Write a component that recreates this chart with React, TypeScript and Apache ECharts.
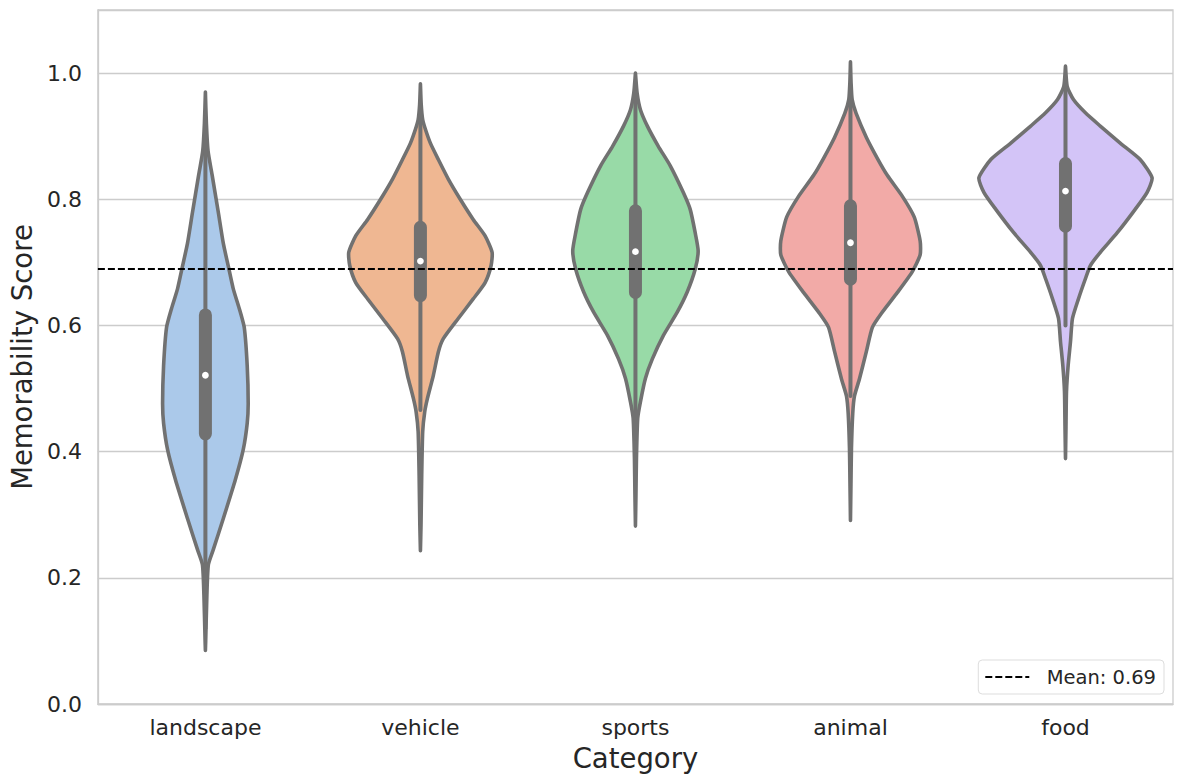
import React, { useEffect, useRef } from "react";
import * as echarts from "echarts";

// ---- Data ----
const categories = ["landscape", "vehicle", "sports", "animal", "food"];

// Violin profile: score positions (bottom → top) and half-widths (px at a 216px category band)
const landscapeScores = [0.085, 0.1, 0.173, 0.221, 0.245, 0.294, 0.355, 0.403, 0.445, 0.476, 0.536, 0.597, 0.627, 0.658, 0.694, 0.73, 0.779, 0.839, 0.876, 0.92, 0.97];
const landscapeWidths = [0, 0.3, 1.5, 3, 8, 18, 30, 38, 42, 43, 42, 39, 34, 28, 23, 18, 13, 6.7, 2.7, 1, 0];

const vehicleScores = [0.243, 0.284, 0.363, 0.432, 0.463, 0.484, 0.521, 0.558, 0.579, 0.611, 0.642, 0.668, 0.695, 0.716, 0.742, 0.768, 0.8, 0.832, 0.863, 0.889, 0.911, 0.926, 0.95, 0.983];
const vehicleWidths = [0, 0.6, 1.3, 2.3, 4.3, 7, 13, 18, 23, 38, 53, 65, 71, 72, 65, 53, 40, 28, 18, 10, 5, 2.3, 0.8, 0];

const sportsScores = [0.282, 0.33, 0.389, 0.453, 0.479, 0.516, 0.547, 0.584, 0.621, 0.653, 0.689, 0.718, 0.747, 0.784, 0.811, 0.853, 0.884, 0.916, 0.942, 0.968, 1.0];
const sportsWidths = [0, 0.5, 1, 2.3, 5, 10, 17, 28, 42, 52, 60, 63, 60, 55, 48, 35, 23, 12, 5, 1.7, 0];

const animalScores = [0.291, 0.35, 0.406, 0.461, 0.488, 0.515, 0.559, 0.597, 0.619, 0.652, 0.685, 0.712, 0.734, 0.772, 0.805, 0.838, 0.865, 0.898, 0.936, 0.958, 0.985, 1.018];
const animalWidths = [0, 0.5, 1, 2.3, 4, 9, 16, 22, 31, 47, 62, 70, 70, 64, 52, 37, 27, 16, 5.7, 1.7, 0.6, 0];

const foodScores = [0.389, 0.44, 0.495, 0.537, 0.574, 0.611, 0.642, 0.674, 0.695, 0.716, 0.747, 0.784, 0.811, 0.834, 0.863, 0.889, 0.916, 0.937, 0.958, 0.979, 1.011];
const foodWidths = [0, 0.5, 1, 2.7, 5, 7, 13, 20, 25, 35, 52, 70, 82, 87, 75, 55, 35, 20, 8, 1.7, 0];

// Inner box statistics per category
const q1Values = [0.418, 0.637, 0.642, 0.663, 0.747];
const medianValues = [0.521, 0.702, 0.717, 0.731, 0.813];
const q3Values = [0.627, 0.766, 0.792, 0.8, 0.867];
const whiskerLow = [0.12, 0.466, 0.42, 0.488, 0.6];
const whiskerHigh = [0.93, 0.95, 0.97, 0.98, 0.98];

const meanScore = 0.694;
const meanLabel = "Mean: 0.69";

const yTicks = [0, 0.2, 0.4, 0.6, 0.8, 1.0];

const colors = ["#abc9ea", "#efb792", "#98daa7", "#f2aaa7", "#d3c4f7"];

const profiles = [
  { s: landscapeScores, w: landscapeWidths },
  { s: vehicleScores, w: vehicleWidths },
  { s: sportsScores, w: sportsWidths },
  { s: animalScores, w: animalWidths },
  { s: foodScores, w: foodWidths },
];

const GRAY = "#717171";
const FONT = "DejaVu Sans";
const DASH = [7, 3];

export default function App() {
  const ref = useRef<HTMLDivElement>(null);

  useEffect(() => {
    document.body.style.margin = "0";
    if (!ref.current) return;
    const chart = echarts.init(ref.current, null, { renderer: "svg" });

    const option: any = {
      animation: false,
      backgroundColor: "#ffffff",
      grid: {
        left: 92,
        right: 11,
        top: 10,
        bottom: 80,
        show: true,
        borderColor: "#cccccc",
        borderWidth: 1.3,
        backgroundColor: "transparent",
      },
      legend: {
        right: 20,
        bottom: 90,
        orient: "horizontal",
        backgroundColor: "#ffffff",
        borderColor: "#dddddd",
        borderWidth: 1,
        borderRadius: 4,
        padding: [7, 8, 7, 6],
        itemWidth: 44,
        itemHeight: 14,
        itemGap: 10,
        itemStyle: { opacity: 0 },
        textStyle: { fontFamily: FONT, fontSize: 19.5, color: "#262626" },
        formatter: (name: string) => "  " + name,
        data: [meanLabel],
      },
      xAxis: {
        type: "category",
        data: categories,
        boundaryGap: true,
        name: "Category",
        nameLocation: "middle",
        nameGap: 40,
        nameTextStyle: { fontFamily: FONT, fontSize: 27.5, color: "#262626" },
        axisLine: { show: true, lineStyle: { color: "#cccccc", width: 1.3 } },
        axisTick: { show: false },
        axisLabel: { fontFamily: FONT, fontSize: 22, color: "#262626", margin: 12 },
        splitLine: { show: false },
      },
      yAxis: {
        type: "value",
        min: 0,
        max: 1.1,
        interval: 0.2,
        name: "Memorability Score",
        nameLocation: "middle",
        nameGap: 58,
        nameTextStyle: { fontFamily: FONT, fontSize: 27.5, color: "#262626" },
        axisLine: { show: true, lineStyle: { color: "#cccccc", width: 1.3 } },
        axisTick: { show: false },
        axisLabel: {
          fontFamily: FONT,
          fontSize: 22,
          color: "#262626",
          margin: 16,
          showMaxLabel: false,
          formatter: (v: number) => (yTicks.some((t) => Math.abs(t - v) < 1e-6) ? v.toFixed(1) : ""),
        },
        splitLine: { show: true, lineStyle: { color: "#cccccc", width: 1.3 } },
      },
      series: [
        {
          type: "custom",
          name: "violins",
          z: 2,
          data: categories.map((_, i) => [i]),
          renderItem: (params: any, api: any) => {
            const i = params.dataIndex;
            const p = profiles[i];
            const cx = api.coord([i, 0])[0];
            const band = api.size([1, 0])[0];
            const k = band / 216;
            const right = p.s.map((s, j) => [cx + p.w[j] * k, api.coord([i, s])[1]]);
            const left = right
              .slice()
              .reverse()
              .map(([x, y]) => [2 * cx - x, y]);
            const pts = right.concat(left);
            const yq1 = api.coord([i, q1Values[i]])[1];
            const yq3 = api.coord([i, q3Values[i]])[1];
            const ymed = api.coord([i, medianValues[i]])[1];
            const ylo = api.coord([i, whiskerLow[i]])[1];
            const yhi = api.coord([i, whiskerHigh[i]])[1];
            const bw = 13;
            return {
              type: "group",
              children: [
                {
                  type: "polygon",
                  shape: { points: pts, smooth: 0.2 },
                  style: { fill: colors[i], stroke: GRAY, lineWidth: 3.6, lineJoin: "round" },
                },
                {
                  type: "line",
                  shape: { x1: cx, y1: ylo, x2: cx, y2: yhi },
                  style: { stroke: GRAY, lineWidth: 4, lineCap: "round" },
                },
                {
                  type: "rect",
                  shape: { x: cx - bw / 2, y: yq3, width: bw, height: yq1 - yq3, r: bw / 2 },
                  style: { fill: GRAY },
                },
                {
                  type: "circle",
                  shape: { cx: cx, cy: ymed, r: 3.4 },
                  style: { fill: "#ffffff" },
                },
              ],
            };
          },
        },
        {
          type: "line",
          name: meanLabel,
          z: 5,
          data: [],
          symbol: "none",
          itemStyle: { color: "#000000" },
          lineStyle: { color: "#000000", width: 2, type: DASH },
          markLine: {
            silent: true,
            symbol: "none",
            label: { show: false },
            lineStyle: { color: "#000000", width: 2, type: DASH },
            data: [{ yAxis: meanScore }],
          },
        },
      ],
    };

    chart.setOption(option);
    return () => chart.dispose();
  }, []);

  return <div ref={ref} style={{ width: 1184, height: 784 }} />;
}
